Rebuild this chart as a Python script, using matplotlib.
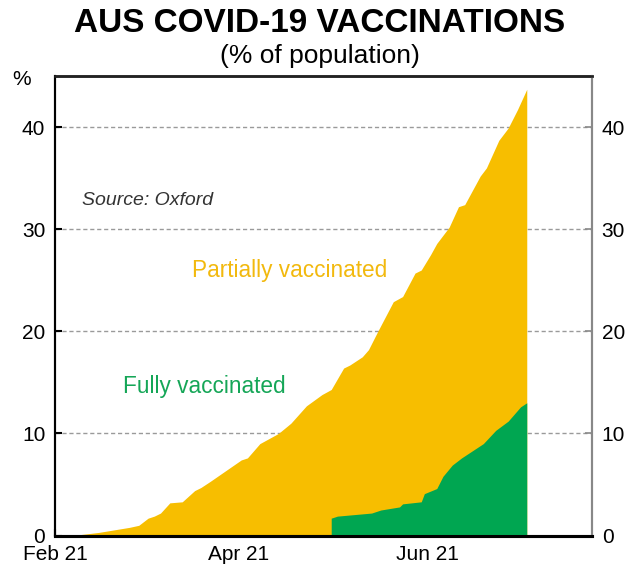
import numpy as np
import pandas as pd
import matplotlib
matplotlib.use("Agg")
import matplotlib.pyplot as plt

plt.rcParams['font.family'] = ['Liberation Sans', 'DejaVu Sans']

# at least one dose, % of population
partial_dates = ["2021-02-01", "2021-02-08", "2021-02-15", "2021-02-25", "2021-02-28",
                 "2021-03-03", "2021-03-05", "2021-03-07", "2021-03-10", "2021-03-14",
                 "2021-03-18", "2021-03-20", "2021-03-23", "2021-04-02", "2021-04-04",
                 "2021-04-08", "2021-04-14", "2021-04-18", "2021-04-23", "2021-04-28",
                 "2021-05-01", "2021-05-05", "2021-05-07", "2021-05-11", "2021-05-13",
                 "2021-05-16", "2021-05-21", "2021-05-24", "2021-05-28", "2021-05-30",
                 "2021-06-02", "2021-06-04", "2021-06-08", "2021-06-11", "2021-06-13",
                 "2021-06-18", "2021-06-20", "2021-06-24", "2021-06-27", "2021-06-30",
                 "2021-07-03"]
partial_vals = [0.0, 0.05, 0.3, 0.8, 1.0,
                1.7, 1.9, 2.2, 3.2, 3.3,
                4.4, 4.7, 5.3, 7.4, 7.6,
                9.0, 10.0, 11.0, 12.7, 13.8,
                14.3, 16.4, 16.7, 17.5, 18.2,
                20.0, 22.9, 23.4, 25.7, 26.0,
                27.5, 28.6, 30.2, 32.2, 32.4,
                35.2, 36.0, 38.7, 39.9, 41.7,
                43.7]

# two doses, % of population
full_dates = ["2021-05-01", "2021-05-03", "2021-05-14", "2021-05-17", "2021-05-23",
              "2021-05-24", "2021-05-30", "2021-05-31", "2021-06-04", "2021-06-06",
              "2021-06-09", "2021-06-12", "2021-06-19", "2021-06-23", "2021-06-27",
              "2021-07-01", "2021-07-03"]
full_vals = [1.7, 1.9, 2.2, 2.5, 2.8,
             3.1, 3.3, 4.1, 4.6, 5.8,
             6.9, 7.6, 9.0, 10.3, 11.2,
             12.6, 13.0]

tick_dates = ["2021-02-01", "2021-04-01", "2021-06-01"]
tick_labels = ["Feb 21", "Apr 21", "Jun 21"]
y_ticks = [0, 10, 20, 30, 40]

yellow = "#F7BE00"
green = "#00A651"

fig = plt.figure(figsize=(6.4, 5.73), dpi=100)
ax = fig.add_axes([0.0859, 0.0654, 0.839, 0.802])

ax.fill_between(pd.to_datetime(partial_dates), 0, partial_vals, color=yellow, lw=0, zorder=2)
ax.fill_between(pd.to_datetime(full_dates), 0, full_vals, color=green, lw=0, zorder=3)

ax.set_xlim(pd.Timestamp("2021-02-01"), pd.Timestamp("2021-07-24"))
ax.set_ylim(0, 45)
ax.set_yticks(y_ticks)
ax.set_xticks(pd.to_datetime(tick_dates))
ax.set_xticklabels(tick_labels)

ax.grid(axis='y', color='#9a9a9a', ls=(0, (3, 2)), lw=1, zorder=1)
ax.tick_params(axis='both', direction='in', length=5, width=1.5, labelsize=15,
               colors='black', pad=7)

ax2 = ax.twinx()
ax2.set_ylim(0, 45)
ax2.set_yticks(y_ticks)
ax2.tick_params(axis='y', direction='in', length=5, width=1.2, labelsize=15,
                color='#888888', labelcolor='black', pad=7)

for a in (ax, ax2):
    a.spines['left'].set_color('black')
    a.spines['left'].set_linewidth(1.5)
    a.spines['top'].set_color('#222222')
    a.spines['top'].set_linewidth(1.8)
    a.spines['bottom'].set_color('black')
    a.spines['bottom'].set_linewidth(2.2)
    a.spines['right'].set_color('#888888')
    a.spines['right'].set_linewidth(1.5)

ax.text(0.050, 0.719, "Source: Oxford", transform=ax.transAxes, fontsize=14,
        style='italic', color='#333333', va='baseline', ha='left')
ax.text(0.4376, 0.562, "Partially vaccinated", transform=ax.transAxes, fontsize=16.3,
        color='#F2B90E', va='baseline', ha='center')
ax.text(0.279, 0.311, "Fully vaccinated", transform=ax.transAxes, fontsize=16.3,
        color='#15A657', va='baseline', ha='center')

fig.text(0.5, 0.944, "AUS COVID-19 VACCINATIONS", ha='center', va='baseline',
         fontsize=24, fontweight='bold')
fig.text(0.5, 0.89, "(% of population)", ha='center', va='baseline', fontsize=19)
fig.text(0.033, 0.852, "%", ha='center', va='baseline', fontsize=15)

fig.savefig("out.png", dpi=100)
